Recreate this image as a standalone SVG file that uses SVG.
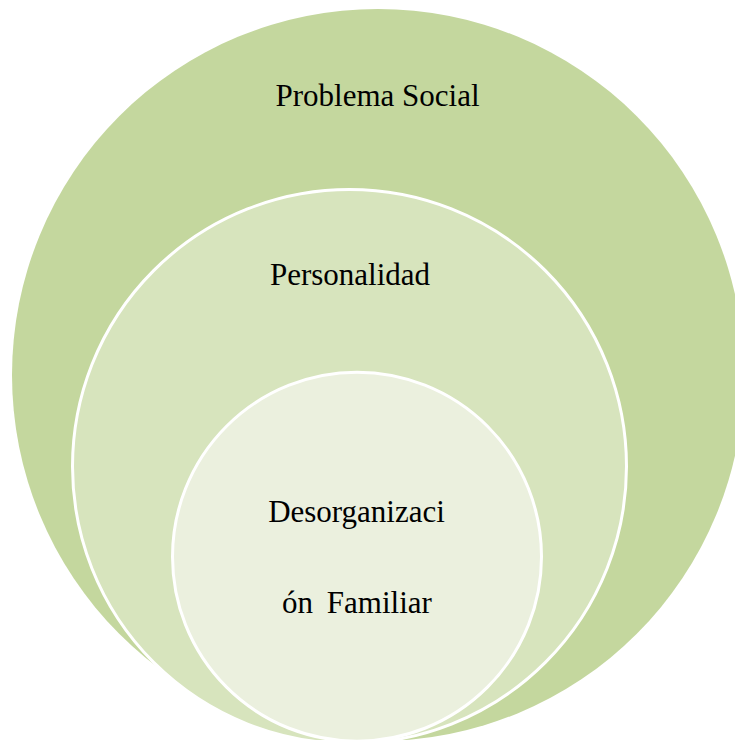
<svg xmlns="http://www.w3.org/2000/svg" width="735" height="740" viewBox="0 0 735 740">
  <style>
    text { font-family: 'Liberation Serif', 'DejaVu Serif', serif; font-size: 31px; fill: #000000; text-anchor: middle; }
    .ring { stroke: #FFFFFF; stroke-width: 3; }
  </style>
  <rect x="0" y="0" width="735" height="740" fill="#FFFFFF"/>
  <g id="node-problema-social">
    <circle cx="378" cy="375" r="366" fill="#C4D79E"/>
    <text x="377.5" y="106" font-family="Liberation Serif, serif">Problema Social</text>
  </g>
  <g id="node-personalidad">
    <circle class="ring" cx="349.5" cy="466.5" r="277" fill="#D7E4BD"/>
    <text x="350" y="285" font-family="Liberation Serif, serif">Personalidad</text>
  </g>
  <g id="node-desorganizacion-familiar">
    <circle class="ring" cx="357" cy="556.7" r="184.5" fill="#EBF0DE"/>
    <text x="356.5" y="522" font-family="Liberation Serif, serif">Desorganizaci</text>
    <text x="357" y="613" word-spacing="6" font-family="Liberation Serif, serif">ón Familiar</text>
  </g>
  <g id="connectors"/>
</svg>
